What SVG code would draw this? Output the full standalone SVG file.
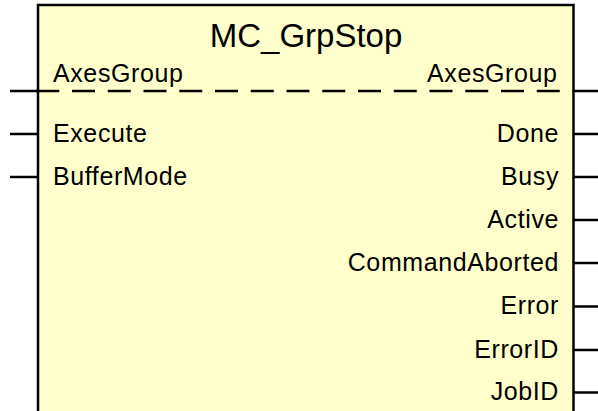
<svg xmlns="http://www.w3.org/2000/svg" width="598" height="411" viewBox="0 0 598 411">
<style>
text{font-family:"Liberation Sans",Arial,sans-serif;fill:#000}
.pin{font-size:25px;letter-spacing:0.6px}
.l{text-anchor:start}
.r{text-anchor:end}
.w{stroke:#000;stroke-width:2.5;fill:none}
</style>
<rect width="598" height="411" fill="#fff"/>
<g id="block">
<rect x="38" y="5" width="535.5" height="420" fill="#FFFFCC" stroke="#000" stroke-width="2.5"/>
<text x="306" y="46.7" font-size="33" text-anchor="middle">MC_GrpStop</text>
<text class="pin l" x="53" y="81.7">AxesGroup</text>
<text class="pin r" x="557.5" y="81.7">AxesGroup</text>
</g>
<g id="connectors">
<line class="w" x1="10" y1="91" x2="38" y2="91"/>
<line class="w" x1="36.25" y1="91" x2="574" y2="91" stroke-dasharray="23 12.75"/>
<line class="w" x1="574" y1="91" x2="598" y2="91"/>
<line class="w" x1="10" y1="134" x2="38" y2="134"/>
<line class="w" x1="10" y1="177" x2="38" y2="177"/>
<line class="w" x1="574" y1="134" x2="598" y2="134"/>
<line class="w" x1="574" y1="177" x2="598" y2="177"/>
<line class="w" x1="574" y1="220" x2="598" y2="220"/>
<line class="w" x1="574" y1="263" x2="598" y2="263"/>
<line class="w" x1="574" y1="306.5" x2="598" y2="306.5"/>
<line class="w" x1="574" y1="350" x2="598" y2="350"/>
<line class="w" x1="574" y1="392.5" x2="598" y2="392.5"/>
</g>
<g id="inputs">
<text class="pin l" x="53" y="141.7">Execute</text>
<text class="pin l" x="53" y="184.7">BufferMode</text>
</g>
<g id="outputs">
<text class="pin r" x="559" y="141.7">Done</text>
<text class="pin r" x="559" y="184.7">Busy</text>
<text class="pin r" x="559" y="227.7">Active</text>
<text class="pin r" x="559" y="270.7">CommandAborted</text>
<text class="pin r" x="559" y="314">Error</text>
<text class="pin r" x="559" y="358">ErrorID</text>
<text class="pin r" x="559" y="400">JobID</text>
</g>
</svg>
